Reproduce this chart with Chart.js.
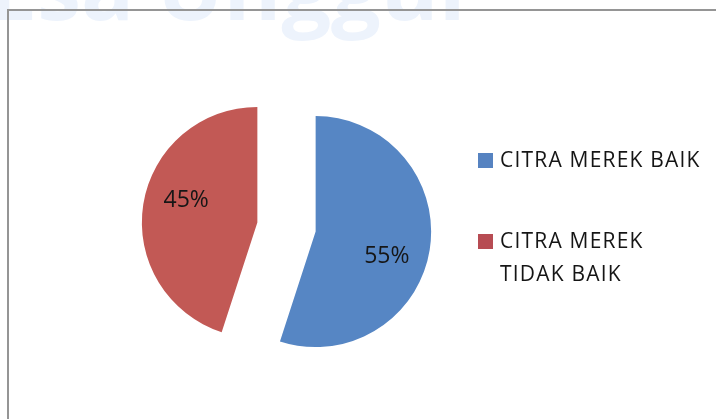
<!DOCTYPE html>
<html>
<head>
<meta charset="utf-8">
<script src="https://cdn.jsdelivr.net/npm/chart.js@4.4.0/dist/chart.umd.min.js"></script>
<style>
  html, body { margin: 0; padding: 0; background: #fff; }
  #wrap { position: relative; width: 716px; height: 419px; overflow: hidden; font-family: "Open Sans", sans-serif; }
  #mark { position: absolute; left: -12px; top: -74px; font: bold 88px "Open Sans", sans-serif; color: #edf3fc; white-space: nowrap; }
  #frame { position: absolute; left: 7px; top: 9px; right: -10px; bottom: -10px; border-left: 2px solid #959595; border-top: 2px solid #959595; }
  #chartPie { position: absolute; left: 0; top: 0; }
  #legend { position: absolute; left: 478px; top: 143px; width: 236px; }
  .item { position: relative; padding-left: 22px; font-size: 21px; line-height: 33px; letter-spacing: 1.2px; color: #151515; margin-bottom: 48px; width: 207px; }
  .box { position: absolute; left: 0; top: 10px; width: 15px; height: 15px; }
</style>
</head>
<body>
<div id="wrap">
  <div id="mark">Esa Unggul</div>
  <div id="frame"></div>
  <canvas id="chartPie" width="716" height="419"></canvas>
  <div id="legend"></div>
</div>
<script>
const categories = ["CITRA MEREK BAIK", "CITRA MEREK TIDAK BAIK"];
const values = [55, 45];
const sliceColors = ["#5686c4", "#c25955"];
const legendColors = ["#5683c1", "#b74c53"];

// how far each slice is pulled out, and where the % text sits
const EXPLODE = 29.5;
const LABEL_R = 0.65;
const LABEL_TURN = 9.5 * Math.PI / 180;

const explode = {
  id: "explode",
  beforeDatasetsDraw(chart) {
    chart.getDatasetMeta(0).data.forEach((arc) => {
      if (arc._exploded) return;
      const baseDraw = Object.getPrototypeOf(arc).draw;
      arc.draw = function (ctx, area) {
        const mid = (this.startAngle + this.endAngle) / 2;
        ctx.save();
        ctx.translate(Math.cos(mid) * EXPLODE, Math.sin(mid) * EXPLODE);
        baseDraw.call(this, ctx, area);
        ctx.restore();
      };
      arc._exploded = true;
    });
  },
};

const pieLabels = {
  id: "pieLabels",
  afterDatasetsDraw(chart) {
    const meta = chart.getDatasetMeta(0);
    const total = values.reduce((a, b) => a + b, 0);
    const ctx = chart.ctx;
    ctx.save();
    ctx.font = '23px "Open Sans"';
    ctx.fillStyle = "#161616";
    ctx.textAlign = "center";
    ctx.textBaseline = "alphabetic";
    meta.data.forEach((arc, i) => {
      const mid = (arc.startAngle + arc.endAngle) / 2;
      const a = mid + LABEL_TURN;
      const x = arc.x + Math.cos(mid) * EXPLODE + Math.cos(a) * arc.outerRadius * LABEL_R;
      const y = arc.y + Math.sin(mid) * EXPLODE + Math.sin(a) * arc.outerRadius * LABEL_R;
      ctx.fillText(Math.round((values[i] / total) * 100) + "%", x, y + 8);
    });
    ctx.restore();
  },
};

new Chart(document.querySelector("#chartPie"), {
  type: "pie",
  data: {
    labels: categories,
    datasets: [
      {
        data: values,
        backgroundColor: sliceColors,
        borderWidth: 0,
      },
    ],
  },
  options: {
    responsive: false,
    animation: false,
    events: [],
    layout: {
      padding: { left: 171, right: 314, top: 111.5, bottom: 76.5 },
    },
    plugins: {
      legend: { display: false },
      tooltip: { enabled: false },
    },
  },
  plugins: [explode, pieLabels],
});

const legend = document.querySelector("#legend");
categories.forEach((name, i) => {
  const item = document.createElement("div");
  item.className = "item";
  item.innerHTML = '<span class="box" style="background:' + legendColors[i] + '"></span>' + name;
  legend.appendChild(item);
});
</script>
</body>
</html>
